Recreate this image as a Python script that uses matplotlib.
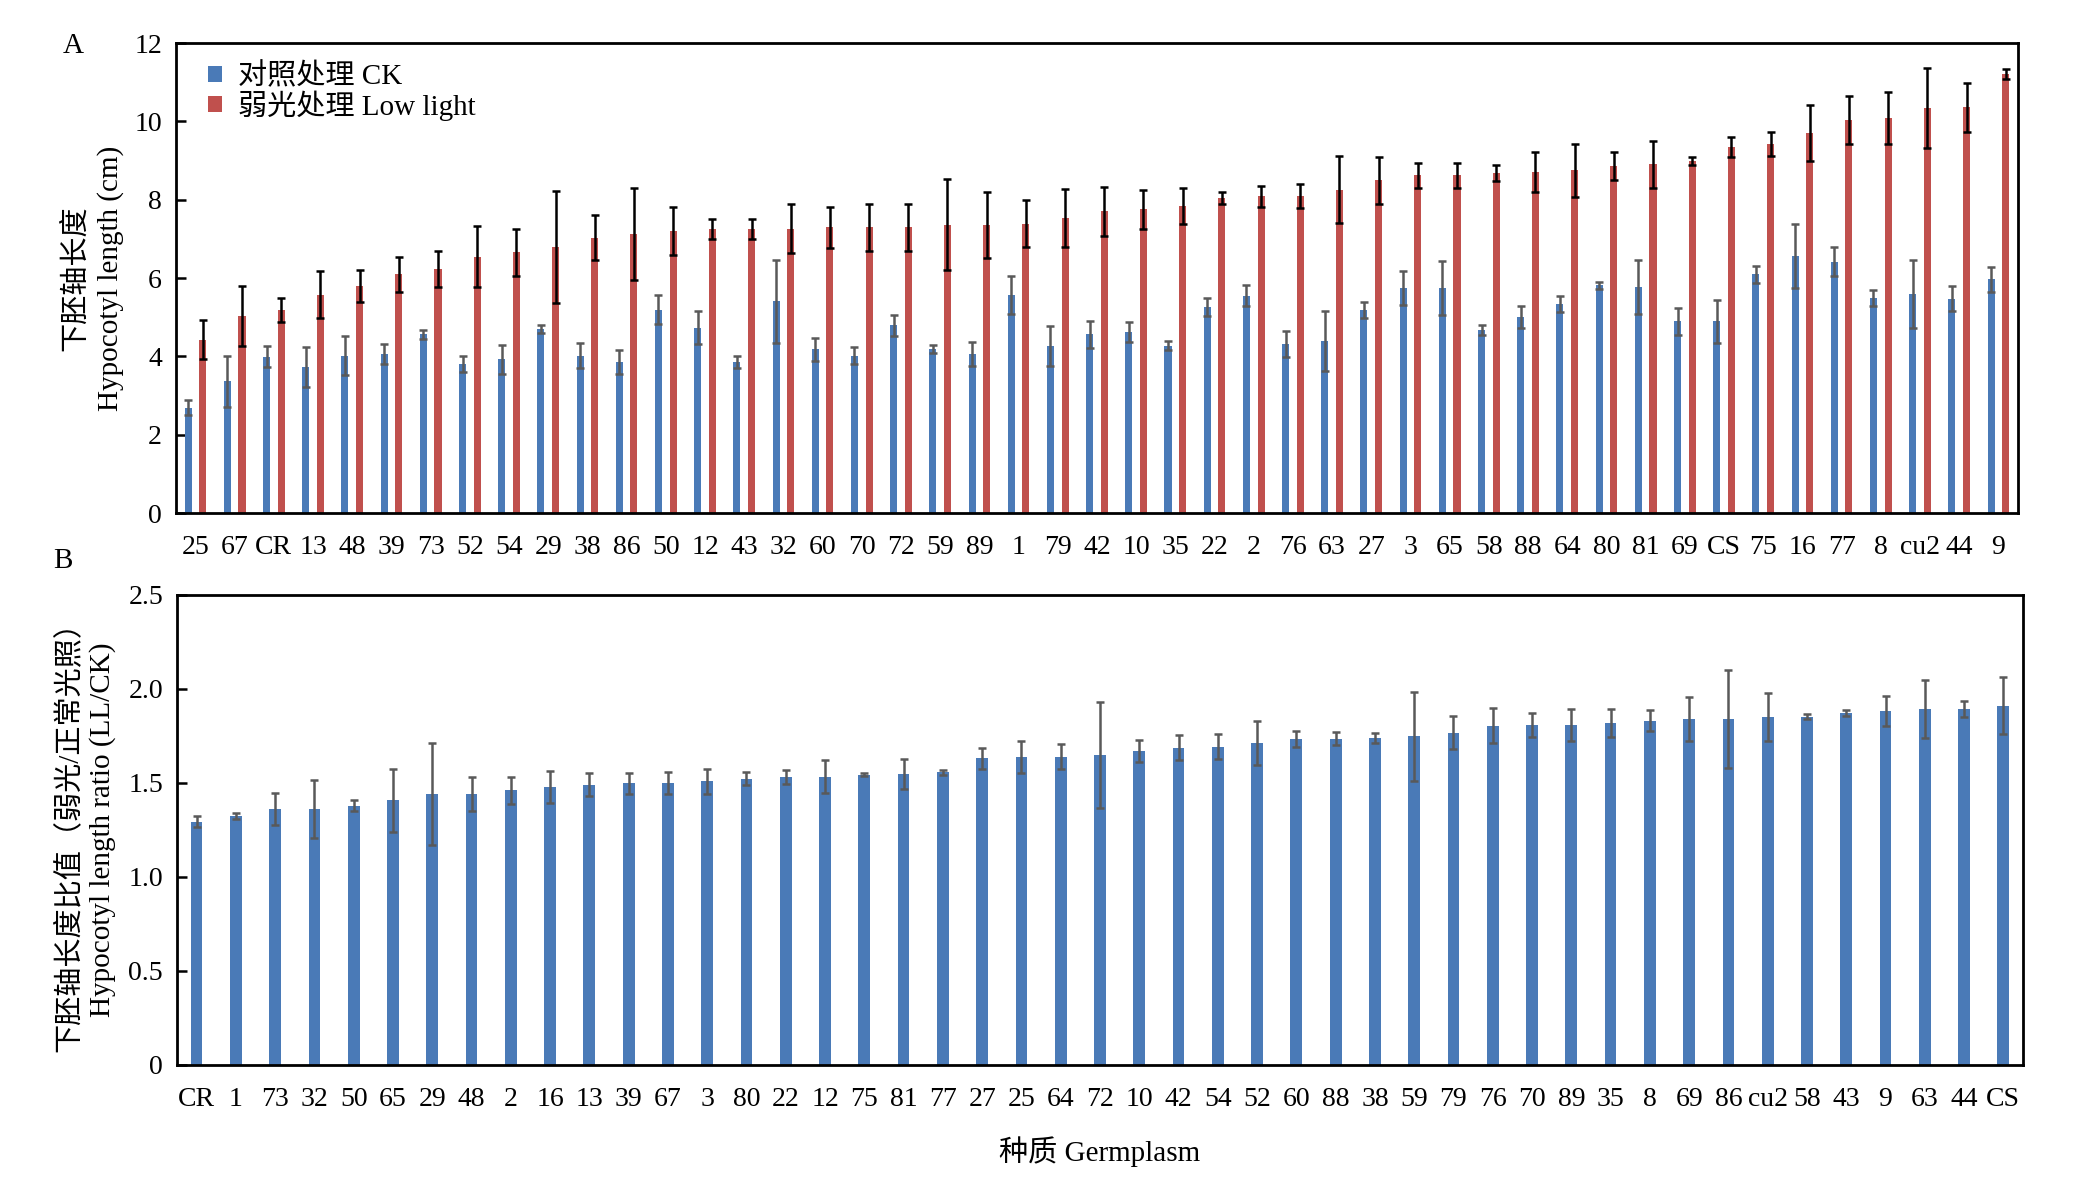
import matplotlib
matplotlib.use("Agg")
import matplotlib.pyplot as plt
import numpy as np

plt.rcParams['font.family'] = ['Liberation Serif', 'Noto Sans CJK SC']
plt.rcParams['axes.unicode_minus'] = False

# Panel A data
cats_a = ["25", "67", "CR", "13", "48", "39", "73", "52", "54", "29",
          "38", "86", "50", "12", "43", "32", "60", "70", "72", "59",
          "89", "1", "79", "42", "10", "35", "22", "2", "76", "63",
          "27", "3", "65", "58", "88", "64", "80", "81", "69", "CS",
          "75", "16", "77", "8", "cu2", "44", "9"]
ck_mean = [2.69, 3.36, 3.99, 3.73, 4.02, 4.06, 4.56, 3.80, 3.92, 4.70,
           4.02, 3.85, 5.19, 4.73, 3.85, 5.41, 4.18, 4.02, 4.79, 4.18,
           4.06, 5.57, 4.27, 4.56, 4.62, 4.27, 5.26, 5.55, 4.32, 4.40,
           5.19, 5.74, 5.74, 4.67, 5.01, 5.33, 5.81, 5.77, 4.89, 4.89,
           6.09, 6.57, 6.42, 5.49, 5.59, 5.47, 5.97]
ck_err = [0.20, 0.65, 0.27, 0.51, 0.50, 0.25, 0.12, 0.20, 0.36, 0.11,
          0.33, 0.30, 0.37, 0.42, 0.15, 1.06, 0.30, 0.21, 0.27, 0.10,
          0.30, 0.48, 0.51, 0.35, 0.25, 0.12, 0.22, 0.26, 0.33, 0.77,
          0.21, 0.43, 0.69, 0.12, 0.28, 0.21, 0.10, 0.68, 0.35, 0.54,
          0.21, 0.82, 0.36, 0.21, 0.86, 0.32, 0.32]
ll_mean = [4.43, 5.03, 5.19, 5.57, 5.80, 6.09, 6.23, 6.54, 6.66, 6.79,
           7.03, 7.12, 7.20, 7.25, 7.25, 7.26, 7.29, 7.29, 7.29, 7.36,
           7.36, 7.39, 7.53, 7.70, 7.76, 7.83, 8.05, 8.09, 8.09, 8.26,
           8.49, 8.62, 8.62, 8.68, 8.71, 8.75, 8.85, 8.91, 8.99, 9.34,
           9.43, 9.70, 10.03, 10.09, 10.34, 10.36, 11.21]
ll_err = [0.50, 0.77, 0.31, 0.60, 0.40, 0.45, 0.47, 0.78, 0.60, 1.42,
          0.58, 1.17, 0.62, 0.25, 0.25, 0.62, 0.53, 0.61, 0.61, 1.16,
          0.84, 0.60, 0.75, 0.62, 0.50, 0.46, 0.15, 0.27, 0.30, 0.85,
          0.60, 0.31, 0.31, 0.21, 0.51, 0.68, 0.36, 0.60, 0.11, 0.26,
          0.31, 0.71, 0.62, 0.66, 1.03, 0.62, 0.12]

# Panel B data
cats_b = ["CR", "1", "73", "32", "50", "65", "29", "48", "2", "16",
          "13", "39", "67", "3", "80", "22", "12", "75", "81", "77",
          "27", "25", "64", "72", "10", "42", "54", "52", "60", "88",
          "38", "59", "79", "76", "70", "89", "35", "8", "69", "86",
          "cu2", "58", "43", "9", "63", "44", "CS"]
ratio_mean = [1.295, 1.325, 1.36, 1.36, 1.38, 1.407, 1.442, 1.442, 1.461, 1.478,
              1.491, 1.498, 1.50, 1.509, 1.522, 1.53, 1.534, 1.545, 1.547, 1.556,
              1.631, 1.638, 1.64, 1.649, 1.672, 1.688, 1.694, 1.713, 1.735, 1.735,
              1.739, 1.748, 1.767, 1.804, 1.806, 1.806, 1.819, 1.832, 1.84, 1.84,
              1.853, 1.853, 1.873, 1.884, 1.894, 1.894, 1.912]
ratio_err = [0.03, 0.015, 0.085, 0.155, 0.03, 0.17, 0.27, 0.09, 0.072, 0.085,
             0.062, 0.055, 0.06, 0.065, 0.035, 0.038, 0.088, 0.01, 0.078, 0.015,
             0.055, 0.087, 0.066, 0.28, 0.058, 0.068, 0.065, 0.117, 0.043, 0.034,
             0.025, 0.237, 0.087, 0.093, 0.064, 0.085, 0.075, 0.054, 0.117, 0.26,
             0.128, 0.012, 0.016, 0.081, 0.155, 0.042, 0.151]

BLUE = "#4A7AB7"
RED = "#C0504D"
GREY = "#595959"
TFS = 20   # tick labels
LFS = 21   # axis labels / legend

fig = plt.figure(figsize=(20.94, 11.95), dpi=100)
axA = fig.add_axes([0.0840, 0.5707, 0.8797, 0.3933])
axB = fig.add_axes([0.0845, 0.1088, 0.8816, 0.3933])

x = np.arange(len(cats_a))
w = 0.18
off = 0.187
axA.bar(x - off, ck_mean, w, color=BLUE, label="对照处理 CK", zorder=2)
axA.bar(x + off, ll_mean, w, color=RED, label="弱光处理 Low light", zorder=2)
axA.errorbar(x - off, ck_mean, yerr=ck_err, fmt='none', ecolor=GREY,
             elinewidth=1.8, capsize=3.2, capthick=1.8, zorder=3)
axA.errorbar(x + off, ll_mean, yerr=ll_err, fmt='none', ecolor='black',
             elinewidth=1.8, capsize=3.2, capthick=1.8, zorder=3)
axA.set_xlim(-0.5, len(cats_a) - 0.5)
axA.set_ylim(0, 12)
axA.set_yticks(np.arange(0, 13, 2))
axA.set_yticklabels([str(v) for v in range(0, 13, 2)])
axA.set_xticks(x)
axA.set_xticklabels(cats_a)
axA.set_ylabel("下胚轴长度\nHypocotyl length (cm)", fontsize=LFS, linespacing=1.4)
axA.yaxis.set_label_coords(-0.028, 0.5)
leg = axA.legend(loc="upper left", bbox_to_anchor=(0.005, 1.008), frameon=False,
                 fontsize=LFS, handlelength=0.45, handleheight=0.45,
                 handletextpad=0.55, labelspacing=0.0, borderaxespad=0.4)

xb = np.arange(len(cats_b))
axB.bar(xb, ratio_mean, 0.3, color=BLUE, zorder=2)
axB.errorbar(xb, ratio_mean, yerr=ratio_err, fmt='none', ecolor=GREY,
             elinewidth=1.8, capsize=3.2, capthick=1.8, zorder=3)
axB.set_xlim(-0.5, len(cats_b) - 0.5)
axB.set_ylim(0, 2.5)
axB.set_yticks([0, 0.5, 1.0, 1.5, 2.0, 2.5])
axB.set_yticklabels(["0", "0.5", "1.0", "1.5", "2.0", "2.5"])
axB.set_xticks(xb)
axB.set_xticklabels(cats_b)
axB.set_ylabel("下胚轴长度比值（弱光/正常光照）\nHypocotyl length ratio (LL/CK)",
               fontsize=LFS, linespacing=1.3)
axB.yaxis.set_label_coords(-0.033, 0.5)
axB.set_xlabel("种质 Germplasm", fontsize=LFS, labelpad=17)

for ax in (axA, axB):
    for s in ax.spines.values():
        s.set_linewidth(2.0)
        s.set_color("black")
    ax.tick_params(axis='y', direction='in', length=7, width=1.8,
                   labelsize=TFS, pad=10)
    ax.tick_params(axis='x', length=0, labelsize=TFS, pad=16)

fig.text(73 / 2094, 1 - 46 / 1195, "A", fontsize=LFS, ha='center', va='center')
fig.text(63 / 2094, 1 - 561 / 1195, "B", fontsize=LFS, ha='center', va='center')

fig.savefig("out.png", dpi=100)
